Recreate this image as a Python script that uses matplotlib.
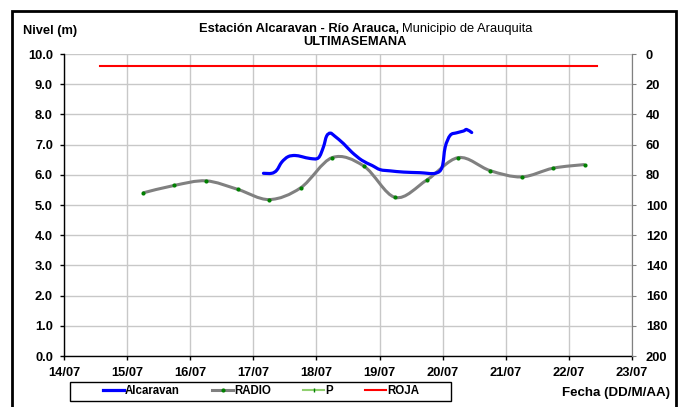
import matplotlib
matplotlib.use("Agg")
import matplotlib.pyplot as plt
from matplotlib.path import Path
from matplotlib.patches import PathPatch, Rectangle
from matplotlib.lines import Line2D
import numpy as np

plt.rcParams['font.family'] = ['Liberation Sans', 'DejaVu Sans']

# dias de julio (fraccion de dia) y niveles en metros
alcaravan_x = [17.16, 17.29, 17.37, 17.45, 17.55, 17.66, 17.77, 17.90, 18.03,
               18.11, 18.16, 18.22, 18.29, 18.43, 18.56, 18.72, 18.88, 19.01,
               19.17, 19.38, 19.64, 19.88, 19.99, 20.04, 20.12, 20.22, 20.33,
               20.38, 20.46]
alcaravan_y = [6.05, 6.05, 6.15, 6.42, 6.60, 6.64, 6.60, 6.54, 6.56,
               6.92, 7.28, 7.38, 7.28, 7.03, 6.75, 6.48, 6.31, 6.17,
               6.13, 6.09, 6.07, 6.05, 6.25, 6.92, 7.31, 7.39, 7.45,
               7.50, 7.40]

radio_x = [15.25, 15.75, 16.25, 16.75, 17.25, 17.75, 18.25, 18.75,
           19.25, 19.75, 20.25, 20.75, 21.25, 21.75, 22.25]
radio_y = [5.40, 5.65, 5.80, 5.52, 5.18, 5.57, 6.57, 6.29,
           5.25, 5.83, 6.57, 6.14, 5.93, 6.22, 6.34]

roja_x = [14.57, 22.45]
roja_y = [9.6, 9.6]

x_ticks = list(range(14, 24))
x_labels = ["%02d/07" % d for d in x_ticks]
y_ticks = np.arange(0, 10.5, 1.0)
y2_ticks = list(range(0, 201, 20))

FS = 9.3


def smooth_path(xs, ys):
    # curva suavizada tipo Excel (Bezier por Catmull-Rom)
    p = np.column_stack([xs, ys])
    n = len(p)
    verts = [p[0]]
    codes = [Path.MOVETO]
    for i in range(n - 1):
        p0 = p[i - 1] if i > 0 else p[i]
        p3 = p[i + 2] if i + 2 < n else p[i + 1]
        c1 = p[i] + (p[i + 1] - p0) / 6.0
        c2 = p[i + 1] - (p3 - p[i]) / 6.0
        verts += [c1, c2, p[i + 1]]
        codes += [Path.CURVE4] * 3
    return Path(verts, codes)


fig = plt.figure(figsize=(6.79, 4.07), dpi=100)
ax = fig.add_axes([0.0943, 0.1253, 0.8365, 0.742])

ax.set_xlim(14, 23)
ax.set_ylim(0, 10)
ax.set_xticks(x_ticks)
ax.set_xticklabels(x_labels)
ax.set_yticks(y_ticks)
ax.set_yticklabels(["%.1f" % v for v in y_ticks])
ax.grid(True, color="#c8c8c8", linewidth=1)
ax.set_axisbelow(True)

for lab in ax.get_xticklabels() + ax.get_yticklabels():
    lab.set_fontweight("bold")
    lab.set_fontsize(FS)
ax.tick_params(axis="x", length=3, width=1, color="black", pad=5)
ax.tick_params(axis="y", length=3, width=1, color="black", pad=5)
ax.spines["top"].set_visible(False)
ax.spines["right"].set_color("#808080")
ax.spines["left"].set_linewidth(1)
ax.spines["bottom"].set_linewidth(1)

ax.plot(roja_x, roja_y, color="red", linewidth=1.5, zorder=3)
ax.add_patch(PathPatch(smooth_path(radio_x, radio_y), facecolor="none",
                       edgecolor="#808080", linewidth=2.2, zorder=3))
ax.plot(radio_x, radio_y, "o", color="green", markersize=3, markeredgewidth=0, zorder=4)
ax.add_patch(PathPatch(smooth_path(alcaravan_x, alcaravan_y), facecolor="none",
                       edgecolor="blue", linewidth=2.3, zorder=5, capstyle="round"))

ax2 = ax.twinx()
ax2.set_ylim(200, 0)
ax2.set_yticks(y2_ticks)
ax2.set_yticklabels([str(v) for v in y2_ticks], fontweight="bold", fontsize=FS)
ax2.tick_params(axis="y", length=3, color="#808080", pad=7)
for s in ["top", "left", "bottom"]:
    ax2.spines[s].set_visible(False)
ax2.spines["right"].set_color("#808080")

# textos
fig.text(23 / 679, 1 - 31 / 407, "Nivel (m)", fontsize=FS, fontweight="bold", va="center")
fig.text(399 / 679, 1 - 29 / 407, "Estación Alcaravan - Río Arauca,", fontsize=FS,
         fontweight="bold", ha="right", va="center")
fig.text(402 / 679, 1 - 29 / 407, "Municipio de Arauquita", fontsize=FS,
         ha="left", va="center")
fig.text(355 / 679, 1 - 42 / 407, "ULTIMASEMANA", fontsize=FS, fontweight="bold",
         ha="center", va="center")
fig.text(670 / 679, 1 - 393 / 407, "Fecha (DD/M/AA)", fontsize=FS + 0.3, fontweight="bold",
         ha="right", va="center")

handles = [
    Line2D([], [], color="blue", linewidth=2.3),
    Line2D([], [], color="#808080", linewidth=2.2, marker="o", markersize=3,
           markerfacecolor="green", markeredgewidth=0),
    Line2D([], [], color="#90d070", linewidth=1.5, marker="|", markersize=3,
           markeredgecolor="green"),
    Line2D([], [], color="red", linewidth=1.5),
]
leg = fig.legend(handles, ["Alcaravan", "RADIO", "P", "ROJA"], ncol=4,
                 loc="center", bbox_to_anchor=(261 / 679, 1 - 391.5 / 407),
                 frameon=False, handlelength=1.8, handletextpad=0.1,
                 columnspacing=2.8, borderpad=0.2,
                 prop={"weight": "bold", "size": 8.3})
fig.patches.append(Rectangle((70 / 679, 1 - 401 / 407), (451 - 70) / 679, 19 / 407,
                             transform=fig.transFigure, fill=False,
                             edgecolor="black", linewidth=1))

# marco exterior
fig.patches.append(Rectangle((12 / 679, -0.05), (676 - 12) / 679, 1 - 11 / 407 + 0.05,
                             transform=fig.transFigure, fill=False,
                             edgecolor="black", linewidth=2, clip_on=False))

fig.savefig("out.png", dpi=100)
